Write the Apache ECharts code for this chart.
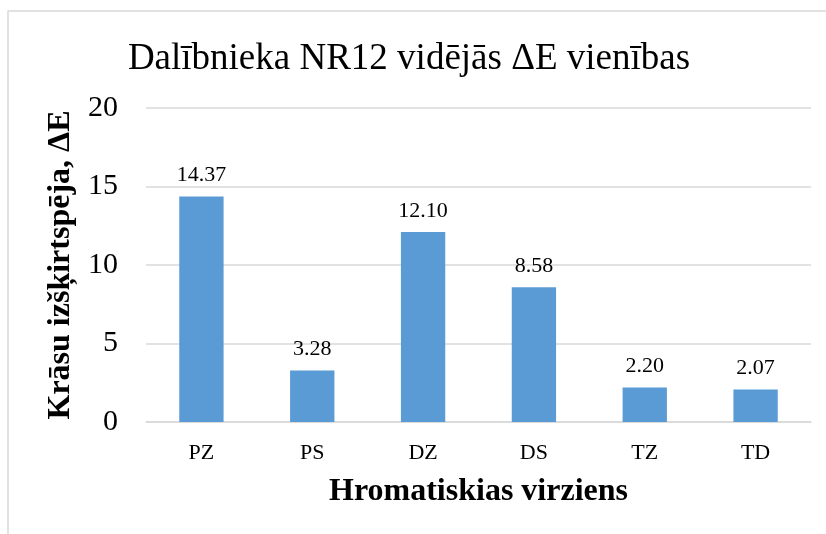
<!DOCTYPE html>
<html>
<head>
<meta charset="utf-8">
<script src="https://cdn.jsdelivr.net/npm/echarts@6/dist/echarts.min.js"></script>
<style>
  html, body { margin: 0; padding: 0; background: #fff; }
  #chart { width: 826px; height: 534px; }
</style>
</head>
<body>
<div id="chart"></div>
<script>
    var categories = ['PZ', 'PS', 'DZ', 'DS', 'TZ', 'TD'];
    var values = [14.37, 3.28, 12.10, 8.58, 2.20, 2.07];
    var yTicks = [0, 5, 10, 15, 20];

    var font = '"Liberation Serif", "DejaVu Serif", serif';
    var chart = echarts.init(document.getElementById('chart'));
    var option = {
        backgroundColor: '#fff',
        animation: false,
        graphic: [{
            type: 'rect',
            shape: { x: 8, y: 11, width: 900, height: 600 },
            style: { fill: 'none', stroke: '#d9d9d9', lineWidth: 1.5 },
            silent: true
        }],
        title: {
            text: 'Dalībnieka NR12 vidējās ΔE vienības',
            left: 404,
            top: 36,
            textAlign: 'center',
            textStyle: { fontFamily: font, fontSize: 37, fontWeight: 'normal', color: '#000' }
        },
        grid: { left: 146, right: 15, top: 108, bottom: 112 },
        xAxis: {
            type: 'category',
            data: categories,
            name: 'Hromatiskias virziens',
            nameLocation: 'middle',
            nameGap: 54,
            nameTextStyle: { fontFamily: font, fontSize: 32, fontWeight: 'bold', color: '#000' },
            axisLine: { lineStyle: { color: '#d9d9d9', width: 1.5 } },
            axisTick: { show: false },
            axisLabel: { fontFamily: font, fontSize: 22, color: '#000', margin: 20 }
        },
        yAxis: {
            type: 'value',
            min: yTicks[0],
            max: yTicks[yTicks.length - 1],
            interval: 5,
            name: 'Krāsu izšķirtspēja, ΔE',
            nameLocation: 'middle',
            nameGap: 69,
            nameTextStyle: { fontFamily: font, fontSize: 32, fontWeight: 'bold', color: '#000' },
            axisLine: { show: false },
            axisTick: { show: false },
            axisLabel: { fontFamily: font, fontSize: 30, color: '#000', margin: 28 },
            splitLine: { lineStyle: { color: '#d9d9d9', width: 1.5 } }
        },
        series: [{
            type: 'bar',
            data: values,
            barWidth: '40%',
            itemStyle: { color: '#5b9bd5' },
            label: {
                show: true,
                position: 'top',
                distance: 10,
                formatter: function (p) { return p.value.toFixed(2); },
                fontFamily: font,
                fontSize: 22,
                color: '#000'
            }
        }]
    };
    chart.setOption(option);
</script>
</body>
</html>
